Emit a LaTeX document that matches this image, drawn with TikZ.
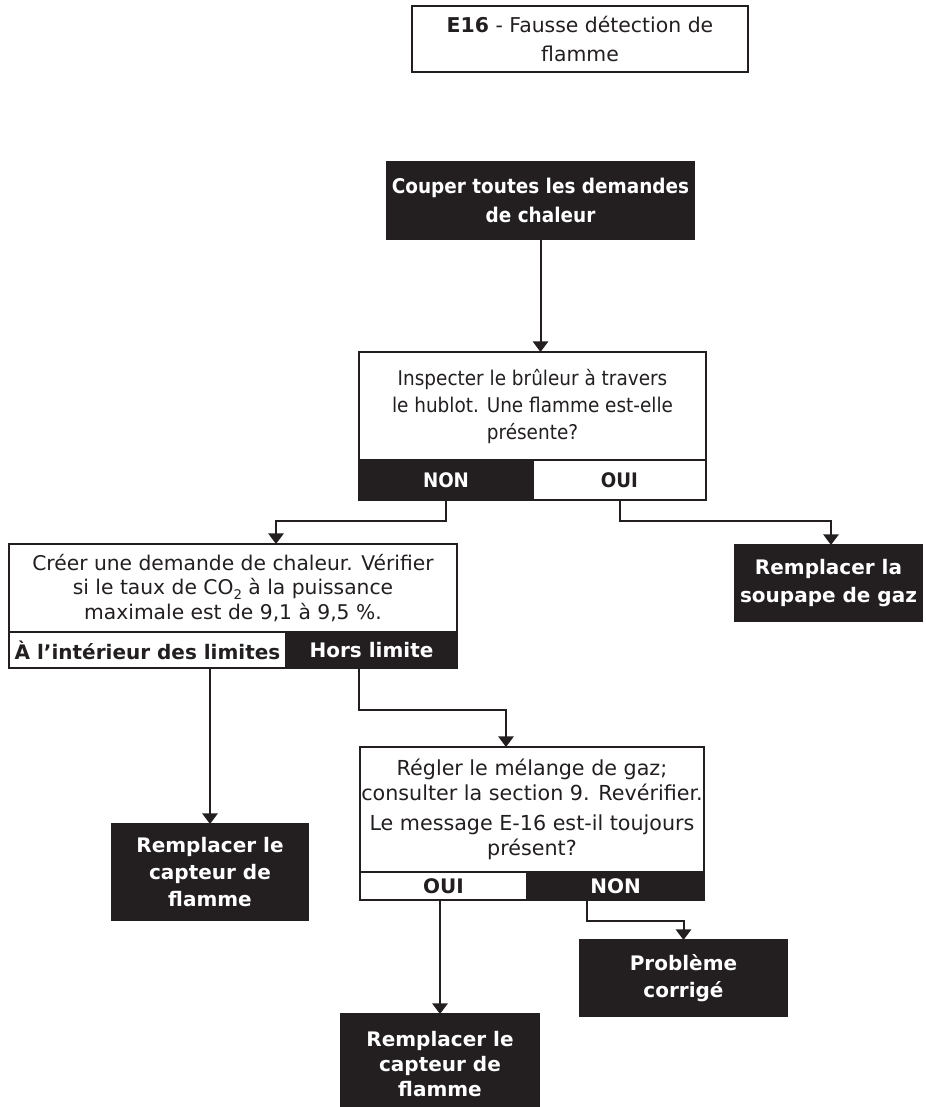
\documentclass[tikz,border=0pt]{standalone}
\usepackage{fontspec}
\setmainfont{DejaVu Sans}
\newfontfamily\cond[FakeStretch=0.91]{DejaVu Sans}
\usetikzlibrary{arrows.meta}
\definecolor{ink}{HTML}{231F20}
\tikzset{
  base/.style={inner sep=0pt, outer sep=0pt, align=center, anchor=north west, font=\fontsize{15pt}{20pt}\selectfont},
  whitebox/.style={base, draw=ink, line width=1.5pt, fill=white, text=ink},
  blackbox/.style={base, draw=ink, line width=1.5pt, fill=ink, text=white},
  conn/.style={draw=ink, line width=1.5pt},
  arr/.style={conn, -{Triangle[width=11.5pt,length=8pt]}},
}
\begin{document}
\begin{tikzpicture}[x=0.75pt,y=-0.75pt]
\useasboundingbox (0,0) rectangle (925,1107);
% title
\node[whitebox, minimum width=252pt, minimum height=49.5pt,
  font=\fontsize{15.3pt}{22pt}\selectfont] (title) at (412,6)
  {\textbf{E16} - Fausse détection de\\flamme};
% first action
\node[blackbox, minimum width=230.25pt, minimum height=57.75pt,
  font=\cond\bfseries\fontsize{15.2pt}{21.75pt}\selectfont] (couper) at (387,162)
  {Couper toutes les demandes\\de chaleur};
% question 1
\node[whitebox, minimum width=260.25pt, minimum height=81pt,
  font=\cond\fontsize{15.2pt}{20.25pt}\selectfont] (inspect) at (359,352)
  {Inspecter le brûleur à travers\\le hublot. Une flamme est-elle\\présente?};
\node[blackbox, minimum width=130.5pt, minimum height=30pt,
  font=\cond\bfseries\fontsize{15pt}{20pt}\selectfont] (non1) at (359,460) {NON};
\node[whitebox, minimum width=129.75pt, minimum height=30pt,
  font=\cond\bfseries\fontsize{15pt}{20pt}\selectfont] (oui1) at (533,460) {OUI};
% soupape
\node[blackbox, minimum width=140.25pt, minimum height=57pt,
  font=\bfseries\fontsize{15pt}{20.5pt}\selectfont] (soupape) at (735,545)
  {Remplacer la\\soupape de gaz};
% question 2
\node[whitebox, minimum width=336pt, minimum height=66pt,
  font=\fontsize{15.2pt}{18.3pt}\selectfont] (creer) at (9,544)
  {Créer une demande de chaleur. Vérifier\\si le taux de CO\raisebox{-0.45ex}{\fontsize{10pt}{10pt}\selectfont 2} à la puissance\\maximale est de 9,1 à 9,5 \%.};
\node[whitebox, minimum width=207.75pt, minimum height=27pt,
  font=\bfseries\fontsize{15pt}{20pt}\selectfont] (ala) at (9,632) {À l’intérieur des limites};
\node[blackbox, minimum width=128.25pt, minimum height=27pt,
  font=\bfseries\fontsize{15pt}{20pt}\selectfont] (hors) at (286,632) {Hors limite};
% replace sensor 1
\node[blackbox, minimum width=147pt, minimum height=72pt,
  font=\bfseries\fontsize{15pt}{20pt}\selectfont] (rep1) at (112,824)
  {Remplacer le\\capteur de\\flamme};
% question 3
\node[whitebox, minimum width=258pt, minimum height=93.75pt,
  font=\fontsize{15.5pt}{18.75pt}\selectfont] (regler) at (360,747)
  {Régler le mélange de gaz;\\consulter la section 9. Revérifier.\\[4pt]Le message E-16 est-il toujours\\présent?};
\node[whitebox, minimum width=125.25pt, minimum height=21pt,
  font=\bfseries\fontsize{15pt}{20pt}\selectfont] (oui2) at (360,872) {OUI};
\node[blackbox, minimum width=132.75pt, minimum height=21pt,
  font=\bfseries\fontsize{15pt}{20pt}\selectfont] (non2) at (527,872) {NON};
% outcomes
\node[blackbox, minimum width=155.25pt, minimum height=57pt,
  font=\bfseries\fontsize{15pt}{20.25pt}\selectfont] (probleme) at (580,940)
  {Problème\\corrigé};
\node[blackbox, minimum width=148.5pt, minimum height=75pt,
  font=\bfseries\fontsize{15pt}{18.5pt}\selectfont] (rep2) at (341,1014)
  {Remplacer le\\capteur de\\flamme};
% connectors
\coordinate (k1) at (276,521);
\coordinate (k2) at (831,521);
\coordinate (k4) at (359,710);
\coordinate (k5) at (506,710);
\coordinate (k6) at (587,921);
\draw[arr] (couper.south) -- (couper.south |- inspect.north);
\draw[arr] (non1.south) |- (k1) -- (k1 |- creer.north);
\draw[arr] (oui1.south) |- (k2) -- (k2 |- soupape.north);
\draw[arr] (ala.south -| rep1.north) -- (rep1.north);
\draw[arr] (hors.south -| k4) -- (k4) -- (k5) -- (k5 |- regler.north);
\draw[arr] (oui2.south -| rep2.north) -- (rep2.north);
\draw[arr] (non2.south -| k6) -- (k6) -| (probleme.north);
\end{tikzpicture}
\end{document}
